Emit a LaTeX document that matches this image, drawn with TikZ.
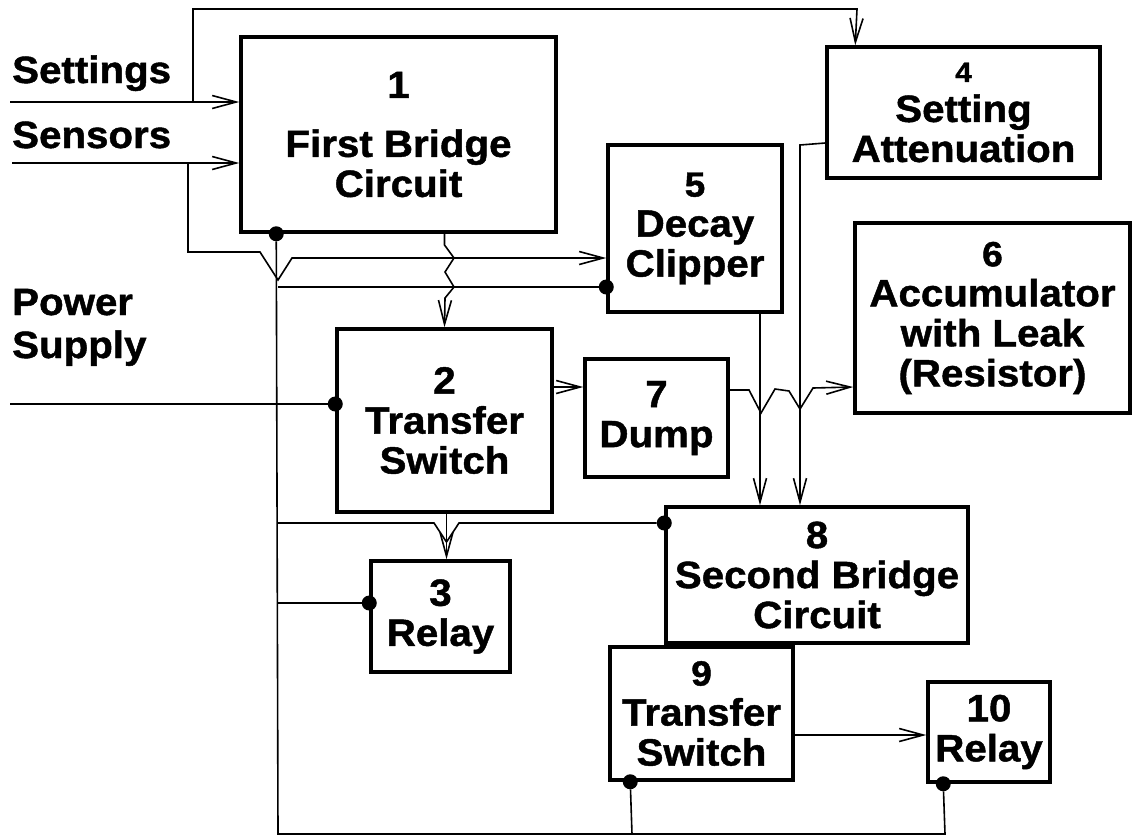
\documentclass[tikz,border=0pt]{standalone}
\usepackage{fontspec}
\newfontfamily\diagfont{Liberation Sans}[FakeStretch=1.06,FakeBold=1.2]
\usetikzlibrary{arrows.meta}
\newcommand\dgnumM{\fontsize{35}{40}\selectfont}
\newcommand\dgnumS{\fontsize{28}{40}\selectfont}
\begin{document}
\begin{tikzpicture}[x=1pt,y=-1pt,
  box/.style={draw, line width=3.5pt, inner sep=0pt, align=center,
    font=\diagfont\fontsize{38}{40}\selectfont\bfseries},
  lbl/.style={inner sep=0pt, font=\diagfont\fontsize{38}{40}\selectfont\bfseries},
  wire/.style={line width=1.6pt},
  arr/.style={wire, -{Straight Barb[length=24pt,width=13pt,line width=1.6pt]}},
  dot/.style={circle, fill, inner sep=0pt, minimum size=15pt}]
\useasboundingbox (0,0) rectangle (1132,839);

% boxes
\node[box, minimum width=315pt, minimum height=195pt] (b1) at (398.5,134.5) {1\\[19pt]First Bridge\\Circuit};
\node[box, minimum width=215pt, minimum height=183pt] (b2) at (444.5,420.5) {2\\Transfer\\Switch};
\node[box, minimum width=139pt, minimum height=111pt] (b3) at (440.5,616.5) {3\\Relay};
\node[box, minimum width=273pt, minimum height=131pt] (b4) at (963.5,112.5) {{\dgnumS 4}\\Setting\\Attenuation};
\node[box, minimum width=174pt, minimum height=167pt] (b5) at (695,228.5) {{\dgnumM 5}\\Decay\\Clipper};
\node[box, minimum width=275pt, minimum height=190pt] (b6) at (992.5,318) {{\dgnumM 6}\\Accumulator\\with Leak\\(Resistor)};
\node[box, minimum width=143pt, minimum height=118pt] (b7) at (656.5,418) {7\\Dump};
\node[box, minimum width=302pt, minimum height=136pt] (b8) at (817,575) {8\\Second Bridge\\Circuit};
\node[box, minimum width=183pt, minimum height=133pt] (b9) at (701.5,713.5) {{\dgnumM 9}\\Transfer\\Switch};
\node[box, minimum width=122pt, minimum height=100pt] (b10) at (989,732) {10\\Relay};

% outside labels
\node[lbl, anchor=base west] (tset) at (12,83) {Settings};
\node[lbl, anchor=base west] (tsen) at (12,148) {Sensors};
\node[lbl, anchor=base west] (tpow) at (12,315) {Power};
\node[lbl, anchor=base west] (tsup) at (12,358) {Supply};

% free ends and junctions
\coordinate (setL) at (10,102);
\coordinate (senL) at (12,163);
\coordinate (powL) at (10,404);
\coordinate (setJ) at (193,102);
\coordinate (senJ) at (188,163);

% dots
\node[dot] (d1) at ([xshift=37pt]b1.south west) {};
\node[dot] (d5) at ([yshift=-58.5pt]b5.west) {};
\node[dot] (d2) at ([yshift=16.5pt]b2.west) {};
\node[dot] (d8) at ([yshift=52pt]b8.west) {};
\node[dot] (d3) at ([yshift=13.5pt]b3.west) {};
\node[dot] (d9) at ([xshift=22pt]b9.south west) {};
\node[dot] (d10) at ([xshift=17pt]b10.south west) {};

% inputs
\draw[arr] (setL) -- (setL -| b1.west);
\draw[arr] (senL) -- (senL -| b1.west);
\draw[arr] (setJ) -- (193,9) -- (857,9) -- ([xshift=30pt]b4.north west);
\draw[arr] (senJ) -- (188,252) -- (260,252) -- (278,280) -- (292,258) -- ([yshift=-29.5pt]b5.west);
\draw[wire] (powL) -- (d2);

% power bus
\draw[wire] (d1) -- (278,834) -- (632,834) -- (d9);
\draw[wire] (632,834) -- (945,834) -- (d10);
\draw[wire] (278,287) -- (d5);
\draw[wire] (278,523) -- (434,523) -- (446.5,542) -- (459,523) -- (d8);
\draw[wire] (278,603) -- (d3);

% signal arrows
\draw[arr] ([xshift=46pt]b1.south) -- (444.5,245) -- (454,258) -- (445,272) -- (454,287) -- (445,298) -- (b2.north);
\draw[arr] ([xshift=2pt]b2.south) -- ([xshift=2pt]b2.south |- b3.north);
\draw[arr] ([yshift=33.5pt]b2.east) -- ([yshift=33.5pt]b2.east -| b7.west);
\draw[arr] ([yshift=28pt]b7.east) -- (749,390) -- (761,413) -- (775,389) -- (789,391) -- (800,409) -- (813,388) -- ([yshift=-69pt]b6.west);
\draw[arr] ([xshift=65pt]b5.south) -- ([xshift=65pt]b5.south |- b8.north);
\draw[arr] ([yshift=-30.5pt]b4.west) -- (800,145) -- (800,145 |- b8.north);
\draw[arr] ([yshift=-21.5pt]b9.east) -- ([yshift=-21.5pt]b9.east -| b10.west);
\end{tikzpicture}
\end{document}
